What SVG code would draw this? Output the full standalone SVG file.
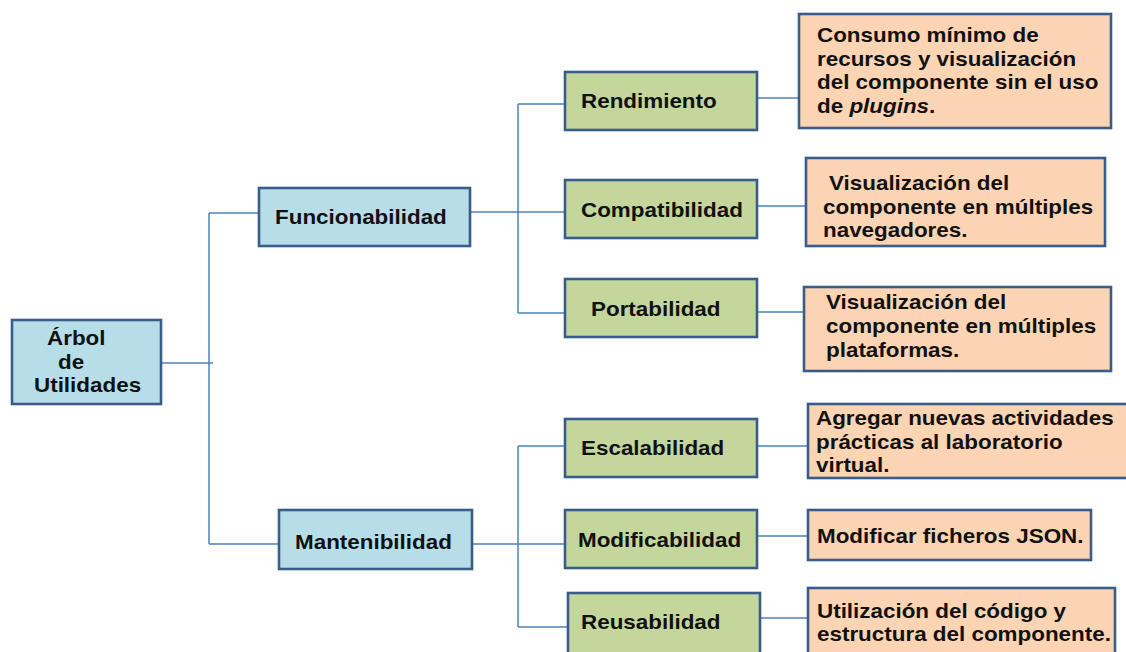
<svg xmlns="http://www.w3.org/2000/svg" width="1126" height="652" viewBox="0 0 1126 652">
  <style>
    .box { stroke: #385D8A; stroke-width: 2.6; }
    .blue { fill: #B7DEE8; }
    .green { fill: #C3D69B; }
    .peach { fill: #FBD4B4; }
    .lbl { font-family: "Liberation Sans", Arial, sans-serif; font-weight: bold; font-size: 19.5px; fill: #111; }
    .wire { stroke: #4F81BD; stroke-width: 1.5; fill: none; }
  </style>
  <rect width="1126" height="652" fill="#FFFFFF"/>

  <!-- connectors -->
  <g id="connectors" class="wire">
    <path d="M161,363 H213 M209,213 V544 M209,213 H258 M209,544 H278"/>
    <path d="M470,212 H565 M518,104 V313 M518,104 H565 M518,313 H565"/>
    <path d="M472,544 H565 M518,446 V627 M518,446 H565 M518,627 H568"/>
    <path d="M757,98 H799 M757,206 H806 M757,312 H804"/>
    <path d="M757,446 H808 M757,536 H808 M760,618 H808"/>
  </g>

  <!-- root -->
  <g id="arbol">
    <rect class="box blue" x="12" y="320" width="149" height="84"/>
    <text class="lbl" transform="matrix(1.15 0 0 1 47 345)">Árbol</text>
    <text class="lbl" transform="matrix(1.15 0 0 1 58 369)">de</text>
    <text class="lbl" transform="matrix(1.15 0 0 1 34 392)">Utilidades</text>
  </g>

  <!-- first level -->
  <g id="funcionabilidad">
    <rect class="box blue" x="259" y="188" width="211" height="58"/>
    <text class="lbl" transform="matrix(1.15 0 0 1 275 224)">Funcionabilidad</text>
  </g>
  <g id="mantenibilidad">
    <rect class="box blue" x="279" y="510" width="193" height="59"/>
    <text class="lbl" transform="matrix(1.15 0 0 1 295 549)">Mantenibilidad</text>
  </g>

  <!-- second level -->
  <g id="rendimiento">
    <rect class="box green" x="565" y="72" width="192" height="58"/>
    <text class="lbl" transform="matrix(1.15 0 0 1 581 108)">Rendimiento</text>
  </g>
  <g id="compatibilidad">
    <rect class="box green" x="565" y="180" width="192" height="58"/>
    <text class="lbl" transform="matrix(1.15 0 0 1 581 217)">Compatibilidad</text>
  </g>
  <g id="portabilidad">
    <rect class="box green" x="565" y="279" width="192" height="58"/>
    <text class="lbl" transform="matrix(1.15 0 0 1 591 316)">Portabilidad</text>
  </g>
  <g id="escalabilidad">
    <rect class="box green" x="565" y="419" width="192" height="58"/>
    <text class="lbl" transform="matrix(1.15 0 0 1 581 455)">Escalabilidad</text>
  </g>
  <g id="modificabilidad">
    <rect class="box green" x="565" y="510" width="192" height="58"/>
    <text class="lbl" transform="matrix(1.15 0 0 1 578 547)">Modificabilidad</text>
  </g>
  <g id="reusabilidad">
    <rect class="box green" x="568" y="593" width="192" height="70"/>
    <text class="lbl" transform="matrix(1.15 0 0 1 581 629)">Reusabilidad</text>
  </g>

  <!-- third level: descriptions -->
  <g id="desc-rendimiento">
    <rect class="box peach" x="799" y="14" width="312" height="114"/>
    <text class="lbl" transform="matrix(1.15 0 0 1 817 42)">Consumo mínimo de</text>
    <text class="lbl" transform="matrix(1.15 0 0 1 817 65.5)">recursos y visualización</text>
    <text class="lbl" transform="matrix(1.15 0 0 1 817 89)">del componente sin el uso</text>
    <text class="lbl" transform="matrix(1.15 0 0 1 817 112.5)">de <tspan font-style="italic">plugins</tspan>.</text>
  </g>
  <g id="desc-compatibilidad">
    <rect class="box peach" x="806" y="158" width="299" height="88"/>
    <text class="lbl" transform="matrix(1.15 0 0 1 829 190)">Visualización del</text>
    <text class="lbl" transform="matrix(1.15 0 0 1 823 213.5)">componente en múltiples</text>
    <text class="lbl" transform="matrix(1.15 0 0 1 823 237)">navegadores.</text>
  </g>
  <g id="desc-portabilidad">
    <rect class="box peach" x="804" y="287" width="307" height="84"/>
    <text class="lbl" transform="matrix(1.15 0 0 1 826 309)">Visualización del</text>
    <text class="lbl" transform="matrix(1.15 0 0 1 826 333)">componente en múltiples</text>
    <text class="lbl" transform="matrix(1.15 0 0 1 826 357)">plataformas.</text>
  </g>
  <g id="desc-escalabilidad">
    <rect class="box peach" x="808" y="404" width="330" height="74"/>
    <text class="lbl" transform="matrix(1.15 0 0 1 816 425)">Agregar nuevas actividades</text>
    <text class="lbl" transform="matrix(1.15 0 0 1 816 449)">prácticas al laboratorio</text>
    <text class="lbl" transform="matrix(1.15 0 0 1 816 472)">virtual.</text>
  </g>
  <g id="desc-modificabilidad">
    <rect class="box peach" x="808" y="510" width="283" height="50"/>
    <text class="lbl" transform="matrix(1.15 0 0 1 817 543)">Modificar ficheros JSON.</text>
  </g>
  <g id="desc-reusabilidad">
    <rect class="box peach" x="808" y="588" width="307" height="75"/>
    <text class="lbl" transform="matrix(1.15 0 0 1 817 618)">Utilización del código y</text>
    <text class="lbl" transform="matrix(1.15 0 0 1 817 641)">estructura del componente.</text>
  </g>
</svg>
